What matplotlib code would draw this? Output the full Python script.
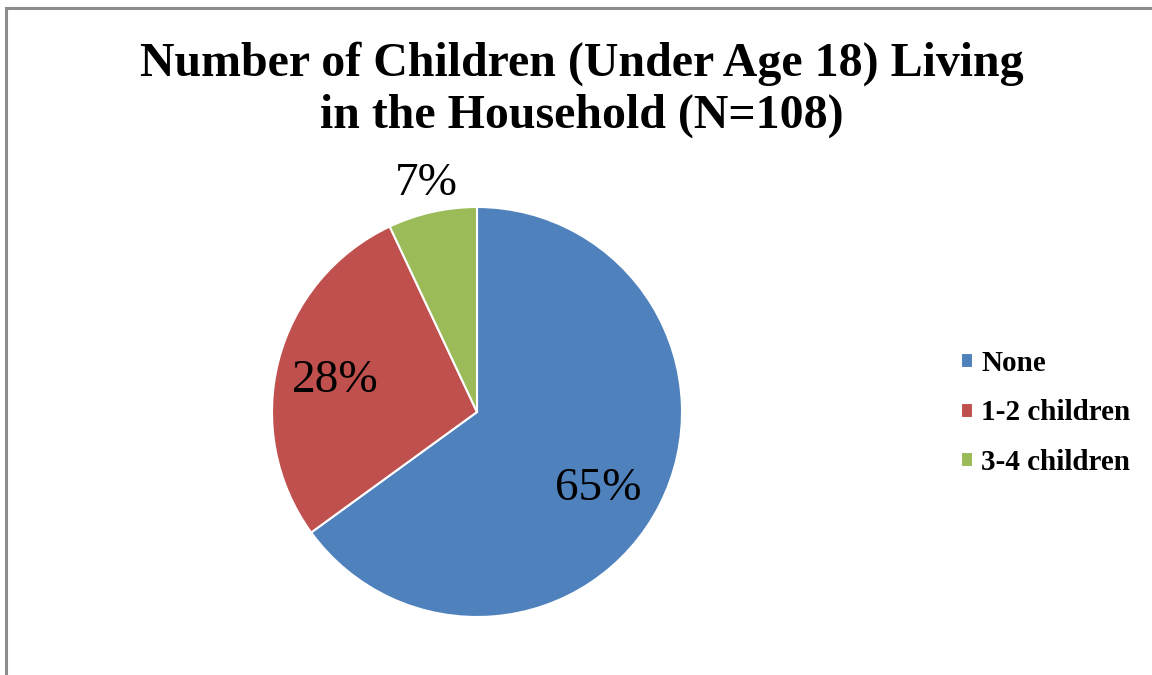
import numpy as np
import matplotlib
matplotlib.use('Agg')
import matplotlib.pyplot as plt
from matplotlib.patches import Rectangle

# datos del grafico
categorias = ['None', '1-2 children', '3-4 children']
porcentajes = [65, 28, 7]
colores = ['#4F81BD', '#C0504D', '#9BBB59']
titulo = 'Number of Children (Under Age 18) Living\nin the Household (N=108)'

plt.rcParams['font.family'] = ['Liberation Serif', 'DejaVu Serif']

W, H = 1152, 675
fig = plt.figure(figsize=(W / 100, H / 100), dpi=100)

# marco gris (cortado a la derecha y abajo)
fig.patches.append(Rectangle((6 / W, -0.05), 1.1, 1 - 8 / H + 0.05,
                             transform=fig.transFigure, fill=False,
                             edgecolor='#8c8c8c', linewidth=2.2))

# ejes del pastel: centro (477, 412), radio 205 px
cx, cy, r = 477, H - 412, 205
ax = fig.add_axes([(cx - r) / W, (cy - r) / H, 2 * r / W, 2 * r / H])
wedges, _ = ax.pie(porcentajes, colors=colores, startangle=90, counterclock=False,
                   radius=1, wedgeprops=dict(edgecolor='white', linewidth=1.5))
ax.set_xlim(-1, 1)
ax.set_ylim(-1, 1)
ax.set_aspect('equal')
ax.axis('off')

# etiquetas de porcentaje
distancias = [0.70, 0.71, 1.14]
ajuste_ang = [-5.5, 2.0, 0.0]
for w, p, d, a in zip(wedges, porcentajes, distancias, ajuste_ang):
    ang = np.deg2rad((w.theta1 + w.theta2) / 2 + a)
    ax.text(d * np.cos(ang), d * np.sin(ang), f'{p}%', ha='center', va='center',
            fontsize=34, clip_on=False)

fig.text(582 / W, 1 - 90 / H, titulo, ha='center', va='center', fontsize=34.5,
         fontweight='bold', linespacing=1.22)

fig.legend(wedges, categorias, loc='center left', bbox_to_anchor=(961 / W, 1 - 413 / H),
           frameon=False, prop=dict(size=21, weight='bold'), handlelength=0.42,
           handleheight=0.42, handletextpad=0.28, labelspacing=0.78, borderaxespad=0,
           borderpad=0)

fig.savefig('out.png', dpi=100)
